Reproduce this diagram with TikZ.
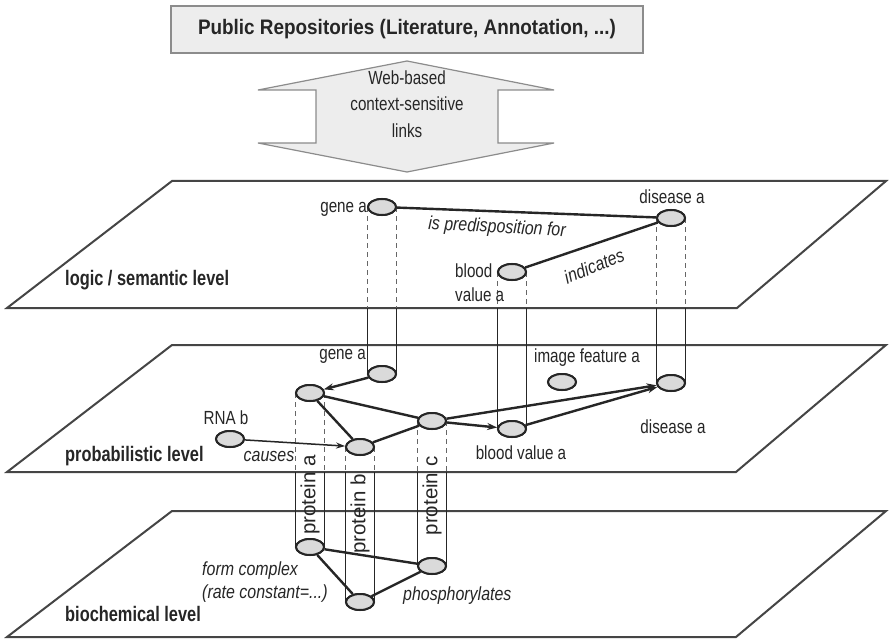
\documentclass[tikz,border=0pt]{standalone}
\usepackage{fontspec}
\setmainfont{Liberation Sans}[FakeStretch=0.8]
\newfontfamily\levelfont{Liberation Sans}[FakeStretch=0.78]
\newfontfamily\titlefont{Liberation Sans}[FakeStretch=0.9]
\newfontfamily\relfont{Liberation Sans}[FakeStretch=0.84]
\newfontfamily\protfont{Liberation Sans}
\usetikzlibrary{shapes.geometric,arrows.meta}
\definecolor{ink}{HTML}{262626}
\definecolor{planeline}{HTML}{454545}
\definecolor{nodefill}{HTML}{DADADA}
\definecolor{panelfill}{HTML}{EDEDED}
\definecolor{panelline}{HTML}{8C8C8C}
\definecolor{hidden}{HTML}{666666}
\tikzset{
  plane/.style={draw=planeline, line width=2pt, fill=white, line join=miter},
  entity/.style={ellipse, draw=ink, line width=2pt, fill=nodefill,
    minimum width=28pt, minimum height=16pt, inner sep=0pt},
  relation/.style={draw=ink, line width=2.4pt},
  influence/.style={relation, -{Stealth[length=10pt,width=7pt]}},
  weakinfluence/.style={draw=ink, line width=1.5pt, -{Stealth[length=9pt,width=6pt]}},
  shaft/.style={draw=ink, line width=1.3pt},
  hiddenshaft/.style={draw=hidden, line width=1.1pt, dash pattern=on 5pt off 4pt},
  lbl/.style={font=\fontsize{19}{22}\selectfont, text=ink, inner sep=0pt},
  rel/.style={font=\relfont\itshape\fontsize{19}{22}\selectfont, text=ink, inner sep=0pt},
  levellbl/.style={font=\levelfont\bfseries\fontsize{21}{24}\selectfont, text=ink,
    inner sep=0pt, anchor=base west},
  prot/.style={font=\protfont\fontsize{20.5}{23}\selectfont, text=ink, inner sep=0pt, rotate=90},
}
\begin{document}
\begin{tikzpicture}[x=1pt,y=-1pt]
\useasboundingbox (0,0) rectangle (891,639);
\fill[white] (0,0) rectangle (891,639);

% repository box and the two-way link arrow
\node[draw=panelline, fill=panelfill, line width=1.5pt, minimum width=472pt,
  minimum height=47pt, inner sep=0pt,
  font=\titlefont\bfseries\fontsize{21}{24}\selectfont, text=ink]
  (repo) at (407,29.5) {Public Repositories (Literature, Annotation, ...)};
\path[draw=panelline, fill=panelfill, line width=1.2pt, line join=miter]
  (258,90) -- (407,61) -- (554,90) -- (498,90) -- (498,143) -- (554,143)
  -- (407,172) -- (258,143) -- (316,143) -- (316,90) -- cycle;
\node[lbl, align=center, font=\fontsize{19}{26.5}\selectfont] (links) at (407,104)
  {Web-based\\context-sensitive\\links};

% the three levels
\path[plane] (172,181) -- (886,181) -- (737,308) -- (7,308) -- cycle;
\path[plane] (172,345) -- (886,345) -- (736,472) -- (7,472) -- cycle;
\path[plane] (172,511) -- (886,511) -- (736,637) -- (7,637) -- cycle;
\coordinate (p1b) at (0,308);
\coordinate (p2b) at (0,472);

% entity positions
\coordinate (g1c) at (382,207);
\coordinate (d1c) at (671,218);
\coordinate (b1c) at (512,272);
\coordinate (g2c) at (382,374);
\coordinate (pa2c) at (310,393);
\coordinate (pb2c) at (360,447);
\coordinate (pc2c) at (432,421);
\coordinate (rnac) at (230,439);
\coordinate (b2c) at (512,429);
\coordinate (d2c) at (671,383);
\coordinate (imgc) at (562,382);
\coordinate (pa3c) at (310,547);
\coordinate (pb3c) at (360,602);
\coordinate (pc3c) at (432,566);

% cylinder walls: hidden part inside a level, solid part between levels
\foreach \u/\l in {g1c/g2c, b1c/b2c, d1c/d2c}{
  \draw[hiddenshaft] ([xshift=-14.5pt]\u) -- ([xshift=-14.5pt]\u |- p1b);
  \draw[hiddenshaft] ([xshift=14.5pt]\u) -- ([xshift=14.5pt]\u |- p1b);
  \draw[shaft] ([xshift=-14.5pt]\u |- p1b) -- ([xshift=-14.5pt]\l);
  \draw[shaft] ([xshift=14.5pt]\u |- p1b) -- ([xshift=14.5pt]\l);
}
\foreach \u/\l in {pa2c/pa3c, pb2c/pb3c, pc2c/pc3c}{
  \draw[hiddenshaft] ([xshift=-14.5pt]\u) -- ([xshift=-14.5pt]\u |- p2b);
  \draw[hiddenshaft] ([xshift=14.5pt]\u) -- ([xshift=14.5pt]\u |- p2b);
  \draw[shaft] ([xshift=-14.5pt]\u |- p2b) -- ([xshift=-14.5pt]\l);
  \draw[shaft] ([xshift=14.5pt]\u |- p2b) -- ([xshift=14.5pt]\l);
}

% protein labels inside the cylinders
\node[prot] (protA) at (310,495) {protein a};
\node[prot] (protB) at (360,514) {protein b};
\node[prot] (protC) at (432,496) {protein c};

% entities
\node[entity] (g1) at (g1c) {};
\node[entity] (d1) at (d1c) {};
\node[entity] (b1) at (b1c) {};
\node[entity] (g2) at (g2c) {};
\node[entity] (pa2) at (pa2c) {};
\node[entity] (pb2) at (pb2c) {};
\node[entity] (pc2) at (pc2c) {};
\node[entity] (rna) at (rnac) {};
\node[entity] (b2) at (b2c) {};
\node[entity] (d2) at (d2c) {};
\node[entity] (img) at (imgc) {};
\node[entity] (pa3) at (pa3c) {};
\node[entity] (pb3) at (pb3c) {};
\node[entity] (pc3) at (pc3c) {};

% relations
\draw[relation] (g1) -- (d1);
\draw[relation] (b1) -- (d1);
\draw[influence] (g2) -- (pa2);
\draw[relation] (pa2) -- (pb2);
\draw[relation] (pa2) -- (pc2);
\draw[relation] (pb2) -- (pc2);
\draw[weakinfluence] (rna) -- (pb2);
\draw[influence] (pc2) -- (d2);
\draw[influence] (pc2) -- (b2);
\draw[influence] (b2) -- (d2);
\draw[relation] (pa3) -- (pb3);
\draw[relation] (pa3) -- (pc3);
\draw[relation] (pb3) -- (pc3);

% redraw entities over the relation ends
\foreach \n in {g1,d1,b1,g2,pa2,pb2,pc2,rna,b2,d2,img,pa3,pb3,pc3}{
  \node[entity] at (\n) {};
}

% level names
\node[levellbl] (lvl1) at (65,285) {logic / semantic level};
\node[levellbl] (lvl2) at (65,461) {probabilistic level};
\node[levellbl] (lvl3) at (65,621) {biochemical level};

% entity labels
\node[lbl, anchor=east] (g1l) at (367,209.5) {gene a};
\node[lbl] (d1l) at (672,197) {disease a};
\node[lbl, anchor=west, align=left, font=\fontsize{19}{24}\selectfont] (b1l) at (455,283) {blood\\value a};
\node[lbl, anchor=east] (g2l) at (366,356) {gene a};
\node[lbl] (rnal) at (226,418) {RNA b};
\node[lbl] (imgl) at (587,358) {image feature a};
\node[lbl] (b2l) at (521,453) {blood value a};
\node[lbl] (d2l) at (673,427) {disease a};

% relation labels
\node[rel, rotate=-3] (predl) at (497,228) {is predisposition for};
\node[rel, rotate=22] (indl) at (594,266) {indicates};
\node[rel] (causl) at (269,456) {causes};
\node[rel, anchor=west, align=left, font=\relfont\itshape\fontsize{19}{23}\selectfont] (forml) at (202,582) {form complex\\(rate constant=...)};
\node[rel, anchor=base west] (phosl) at (403,600) {phosphorylates};
\end{tikzpicture}
\end{document}
